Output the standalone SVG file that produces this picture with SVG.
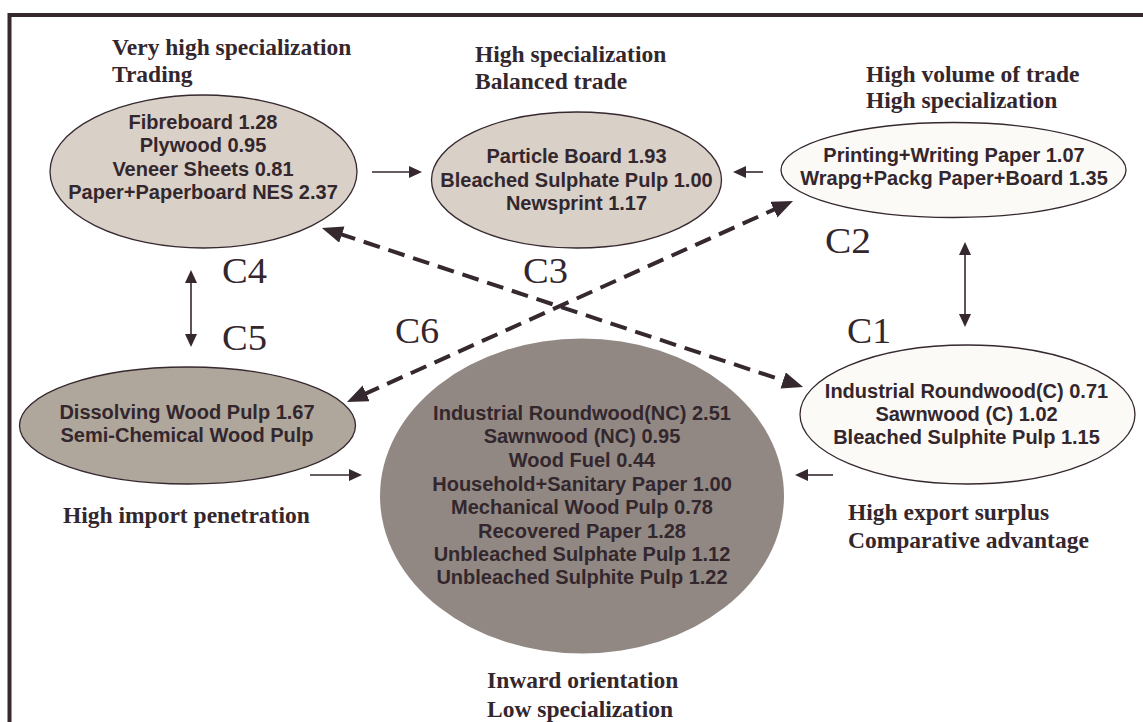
<svg xmlns="http://www.w3.org/2000/svg" width="1143" height="722" viewBox="0 0 1143 722">
<style>
.bg{fill:#ffffff}
.frame{fill:none;stroke:#35282f;stroke-width:4}
.node{stroke:#35282f;stroke-width:1.3}
.t{font-family:"Liberation Sans",Arial,sans-serif;font-weight:bold;font-size:20px;fill:#33272d;text-anchor:middle}
.h{font-family:"Liberation Serif","Times New Roman",serif;font-weight:bold;font-size:23.5px;fill:#33272d}
.c{font-family:"Liberation Serif","Times New Roman",serif;font-size:35px;fill:#33272d}
.solid{fill:none;stroke:#35282f;stroke-width:1.6}
.dash{fill:none;stroke:#35282f;stroke-width:4;stroke-dasharray:17 9}
</style>
<defs>
<marker id="ah" markerUnits="userSpaceOnUse" markerWidth="14" markerHeight="12" refX="2" refY="6" orient="auto-start-reverse">
<path d="M0,0 L13,6 L0,12 z" fill="#35282f"/>
</marker>
<marker id="ahb" markerUnits="userSpaceOnUse" markerWidth="22" markerHeight="18" refX="3" refY="8.5" orient="auto-start-reverse">
<path d="M0,0 L21,8.5 L0,17 z" fill="#35282f"/>
</marker>
</defs>
<rect class="bg" x="0" y="0" width="1143" height="722"/>
<path class="frame" d="M9.5,722 V15 H1143"/>

<g id="connectors">
<line class="solid" x1="372" y1="172" x2="411" y2="172" marker-end="url(#ah)"/>
<line class="solid" x1="763" y1="172" x2="744" y2="172" marker-end="url(#ah)"/>
<line class="solid" x1="965" y1="253" x2="965" y2="316" marker-start="url(#ah)" marker-end="url(#ah)"/>
<line class="solid" x1="191" y1="281" x2="191" y2="336" marker-start="url(#ah)" marker-end="url(#ah)"/>
<line class="solid" x1="310" y1="475" x2="351" y2="475" marker-end="url(#ah)"/>
<line class="solid" x1="833" y1="475" x2="806" y2="475" marker-end="url(#ah)"/>
<line class="dash" x1="339" y1="233.6" x2="786" y2="381.4" marker-start="url(#ahb)" marker-end="url(#ahb)"/>
<line class="dash" x1="363.4" y1="394.6" x2="776.6" y2="208.4" marker-start="url(#ahb)" marker-end="url(#ahb)"/>
</g>

<g id="labels">
<text class="c" x="222" y="283" textLength="45" lengthAdjust="spacingAndGlyphs">C4</text>
<text class="c" x="222" y="350" textLength="45" lengthAdjust="spacingAndGlyphs">C5</text>
<text class="c" x="523" y="283" textLength="45" lengthAdjust="spacingAndGlyphs">C3</text>
<text class="c" x="395" y="343" textLength="44" lengthAdjust="spacingAndGlyphs">C6</text>
<text class="c" x="825" y="253" textLength="46" lengthAdjust="spacingAndGlyphs">C2</text>
<text class="c" x="847" y="343" textLength="44" lengthAdjust="spacingAndGlyphs">C1</text>
</g>

<g id="C4">
<text class="h" x="112" y="55">Very high specialization</text>
<text class="h" x="112" y="82">Trading</text>
<ellipse class="node" cx="203.5" cy="171.5" rx="153.5" ry="76.5" fill="#d9d0c7"/>
<text class="t" x="203" y="129">Fibreboard 1.28</text>
<text class="t" x="203" y="152">Plywood 0.95</text>
<text class="t" x="203" y="176">Veneer Sheets 0.81</text>
<text class="t" x="203" y="199">Paper+Paperboard NES 2.37</text>
</g>

<g id="C3">
<text class="h" x="475" y="62">High specialization</text>
<text class="h" x="475" y="89">Balanced trade</text>
<ellipse class="node" cx="576.5" cy="180" rx="145" ry="68" fill="#d9d0c7"/>
<text class="t" x="576.5" y="163">Particle Board 1.93</text>
<text class="t" x="576.5" y="187">Bleached Sulphate Pulp 1.00</text>
<text class="t" x="576.5" y="210">Newsprint 1.17</text>
</g>

<g id="C2">
<text class="h" x="866" y="82">High volume of trade</text>
<text class="h" x="866" y="108">High specialization</text>
<ellipse class="node" cx="953.5" cy="170" rx="172.5" ry="47.5" fill="#fcfaf7"/>
<text class="t" x="954" y="162">Printing+Writing Paper 1.07</text>
<text class="t" x="954" y="185">Wrapg+Packg Paper+Board 1.35</text>
</g>

<g id="C1">
<ellipse class="node" cx="967.5" cy="414.5" rx="167.5" ry="69.5" fill="#fcfaf7"/>
<text class="t" x="966.5" y="398">Industrial Roundwood(C) 0.71</text>
<text class="t" x="966.5" y="421">Sawnwood (C) 1.02</text>
<text class="t" x="966.5" y="444">Bleached Sulphite Pulp 1.15</text>
<text class="h" x="848" y="520">High export surplus</text>
<text class="h" x="848" y="548">Comparative advantage</text>
</g>

<g id="C5">
<ellipse class="node" cx="187.5" cy="425.5" rx="168" ry="58.5" fill="#afa69c"/>
<text class="t" x="187" y="419">Dissolving Wood Pulp 1.67</text>
<text class="t" x="187" y="442">Semi-Chemical Wood Pulp</text>
<text class="h" x="63" y="523">High import penetration</text>
</g>

<g id="C6">
<ellipse cx="582" cy="496" rx="202" ry="157.5" fill="#918883"/>
<text class="t" x="582" y="420">Industrial Roundwood(NC) 2.51</text>
<text class="t" x="582" y="443">Sawnwood (NC) 0.95</text>
<text class="t" x="582" y="467">Wood Fuel 0.44</text>
<text class="t" x="582" y="491">Household+Sanitary Paper 1.00</text>
<text class="t" x="582" y="514">Mechanical Wood Pulp 0.78</text>
<text class="t" x="582" y="538">Recovered Paper 1.28</text>
<text class="t" x="582" y="561">Unbleached Sulphate Pulp 1.12</text>
<text class="t" x="582" y="584">Unbleached Sulphite Pulp 1.22</text>
<text class="h" x="487" y="688">Inward orientation</text>
<text class="h" x="487" y="717">Low specialization</text>
</g>
</svg>
